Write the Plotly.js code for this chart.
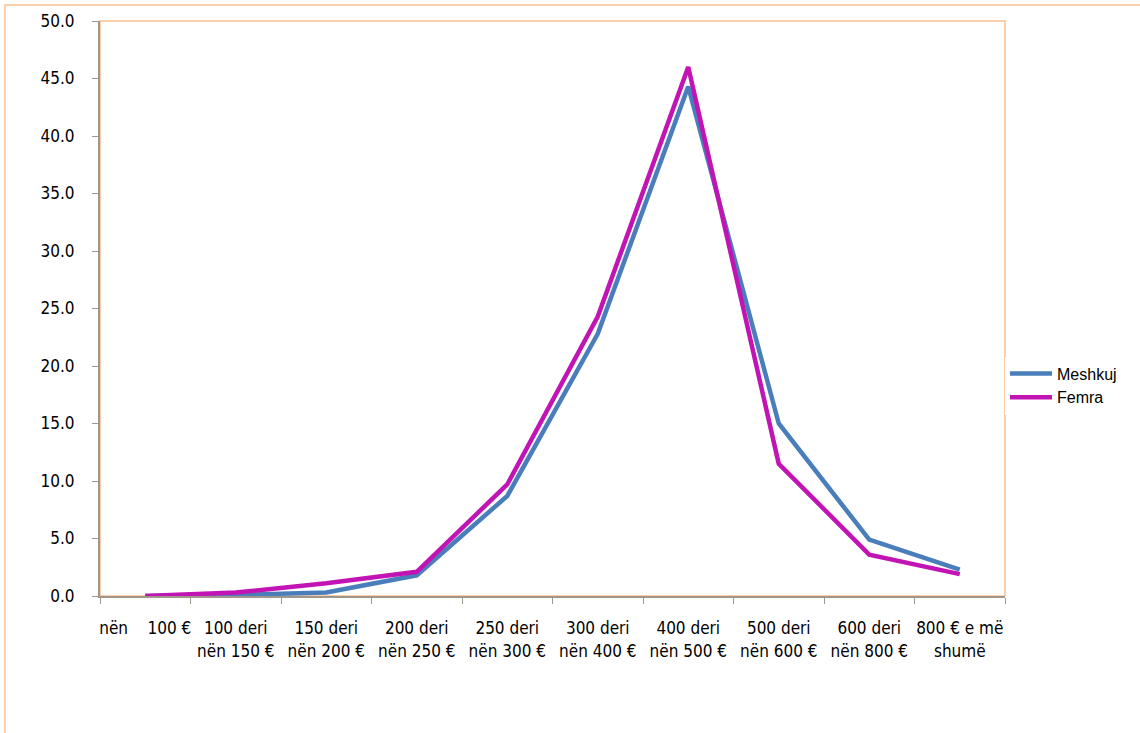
<!DOCTYPE html>
<html>
<head>
<meta charset="utf-8">
<script src="https://cdn.plot.ly/plotly-3.0.1.min.js"></script>
<style>html,body{margin:0;padding:0;background:#fff;}#chart{width:1140px;height:733px;}</style>
</head>
<body>
<div id="chart"></div>
<script>
const categories = [
  "nën    100 €",
  "100 deri<br>nën 150 €",
  "150 deri<br>nën 200 €",
  "200 deri<br>nën 250 €",
  "250 deri<br>nën 300 €",
  "300 deri<br>nën 400 €",
  "400 deri<br>nën 500 €",
  "500 deri<br>nën 600 €",
  "600 deri<br>nën 800 €",
  "800 € e më<br>shumë"
];
const meshkuj = [0.0, 0.1, 0.3, 1.8, 8.7, 22.8, 44.3, 15.0, 4.9, 2.3];
const femra   = [0.0, 0.3, 1.1, 2.1, 9.7, 24.3, 46.0, 11.5, 3.6, 1.9];
const yTicks = [0, 5, 10, 15, 20, 25, 30, 35, 40, 45, 50];

const tickFont = {family: "Liberation Sans Narrow, DejaVu Sans Condensed, sans-serif", size: 17, color: "#000"};
const traces = [
  {x: categories, y: meshkuj, name: "Meshkuj", type: "scatter", mode: "lines",
   line: {color: "#4a7ebb", width: 4.5}},
  {x: categories, y: femra, name: "Femra", type: "scatter", mode: "lines",
   line: {color: "#c214b4", width: 4.5}}
];
const layout = {
  width: 1140, height: 733,
  margin: {l: 100, r: 135, t: 21, b: 137},
  paper_bgcolor: "#fff", plot_bgcolor: "#fff",
  showlegend: true,
  legend: {x: 1.0, xanchor: "left", y: 0.366, yanchor: "middle",
           font: {family: "Liberation Sans, Arial, sans-serif", size: 16, color: "#000"},
           itemwidth: 42},
  xaxis: {type: "category", range: [-0.5, 9.5], showgrid: false, zeroline: false,
          showline: true, linecolor: "#a0968c", linewidth: 2,
          ticks: "outside", tickson: "boundaries", ticklen: 6, tickcolor: "#a0968c", tickwidth: 1,
          tickfont: tickFont, tickangle: 0, ticklabelstandoff: 16},
  yaxis: {range: [0, 50], tickvals: yTicks, tickformat: ".1f", showgrid: false, zeroline: false,
          showline: true, linecolor: "#a0968c", linewidth: 2,
          ticks: "outside", ticklen: 6, tickcolor: "#a0968c", tickwidth: 1,
          tickfont: tickFont, ticklabelstandoff: 14},
  shapes: [
    {type: "rect", xref: "paper", yref: "paper", x0: 0, x1: 1, y0: 0, y1: 1,
     line: {color: "#fac090", width: 1.5}, layer: "below"},
    {type: "rect", xref: "paper", yref: "paper", x0: -0.105, x1: 1.2, y0: -0.3, y1: 1.0278,
     line: {color: "#fac090", width: 1.5}, layer: "below"}
  ]
};
Plotly.newPlot("chart", traces, layout, {staticPlot: true, displayModeBar: false});
</script>
</body>
</html>
